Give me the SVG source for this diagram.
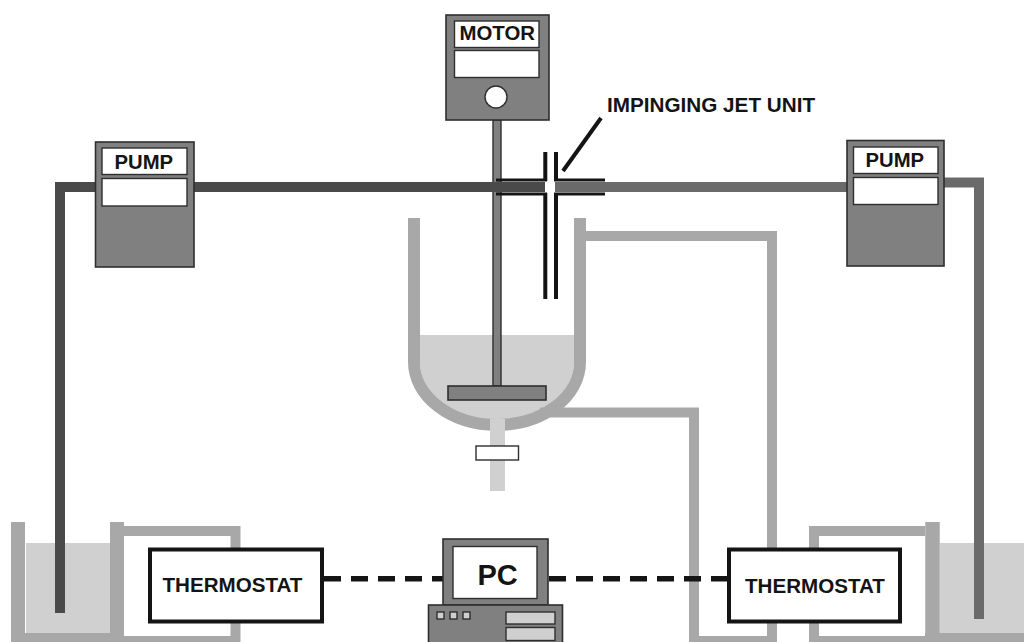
<svg xmlns="http://www.w3.org/2000/svg" width="1024" height="642" viewBox="0 0 1024 642">
<style>
.t{font-family:"Liberation Sans",Arial,sans-serif;font-weight:bold;fill:#141414}
.box{fill:#808080;stroke:#2e2e2e;stroke-width:1.6}
.win{fill:#fff;stroke:#2e2e2e;stroke-width:1.4}
.wall{fill:none;stroke:#a8a8a8;stroke-linejoin:miter}
.liq{fill:#d0d0d0}
.jet{fill:none;stroke:#141414}
.ts{fill:#fff;stroke:#141414;stroke-width:4}
.lt{fill:#cfcfcf;stroke:#2e2e2e;stroke-width:1.4}
</style>
<rect width="1024" height="642" fill="#fff"/>
<g id="vessel">
<path class="liq" d="M420,335H574V362A77,60 0 0 1 420,362Z"/>
<path class="wall" stroke-width="12" d="M414,218V362A83,63 0 0 0 580,362V218"/>
<rect class="liq" x="490" y="419" width="15" height="72"/>
</g>
<g id="tank-left">
<rect class="liq" x="26" y="543" width="84" height="91"/>
<path class="wall" stroke-width="14" d="M18,522V636M117,522V636"/>
<rect x="11" y="633" width="112" height="9" fill="#a8a8a8"/>
</g>
<g id="tank-right">
<rect class="liq" x="940" y="543" width="84" height="91"/>
<path class="wall" stroke-width="14.5" d="M932.5,522V636"/>
<rect x="925" y="633" width="99" height="9" fill="#a8a8a8"/>
</g>
<g id="connectors">
<path class="wall" stroke-width="10" d="M123,531H235.500V641H118"/>
<path class="wall" stroke-width="10" d="M925,531H814V641H930"/>
<path class="wall" stroke-width="10" d="M585,236H772V641H694V412.500H540"/>
<rect x="493" y="120" width="8" height="266" fill="#808080" stroke="#2e2e2e" stroke-width="1.400"/>
<path fill="none" stroke="#4a4a4a" stroke-width="10" d="M60,613V187H545"/>
<path fill="none" stroke="#6a6a6a" stroke-width="10" d="M555,187H847"/>
<path fill="none" stroke="#6a6a6a" stroke-width="10" d="M944,182.500H979V619"/>
<path class="jet" stroke-width="3" d="M496,180H547M496,194H547M554,180H605M554,194H605"/>
<path class="jet" stroke-width="4" d="M545.300,152V181M545.300,193V299M556,152V181M556,193V299"/>
<path class="jet" stroke-width="4" d="M601,118L563,171"/>
<path fill="none" stroke="#141414" stroke-width="5.500" stroke-dasharray="17 10" d="M324,578.800H444M549,578.800H728"/>
</g>
<g id="motor">
<rect class="box" x="446" y="15" width="103" height="105"/>
<rect class="win" x="454.500" y="21" width="84.500" height="26.500"/>
<rect class="win" x="454.500" y="50.500" width="84.500" height="27"/>
<circle cx="496" cy="97" r="11" fill="#fff" stroke="#2e2e2e" stroke-width="1.400"/>
<text class="t" x="459.500" y="40" font-size="20.400">MOTOR</text>
</g>
<g id="pump-left">
<rect class="box" x="95.500" y="142" width="98.500" height="125"/>
<rect class="win" x="102" y="148" width="85" height="26.500"/>
<rect class="win" x="102" y="178.500" width="85" height="27.500"/>
<text class="t" x="114.500" y="168.500" font-size="20.300">PUMP</text>
</g>
<g id="pump-right">
<rect class="box" x="847" y="140.500" width="97" height="125.500"/>
<rect class="win" x="853.500" y="147" width="84.500" height="26.500"/>
<rect class="win" x="853.500" y="177.500" width="84.500" height="27"/>
<text class="t" x="865.500" y="167" font-size="20.300">PUMP</text>
</g>
<g id="impeller">
<rect class="box" x="448" y="386" width="98" height="14"/>
</g>
<g id="valve">
<rect class="win" x="476" y="446" width="42.500" height="14"/>
</g>
<g id="label-jet">
<text class="t" x="607" y="112" font-size="20.700">IMPINGING JET UNIT</text>
</g>
<g id="thermostat-left">
<rect class="ts" x="150" y="549.500" width="172" height="72"/>
<text class="t" x="162.500" y="592" font-size="20.600">THERMOSTAT</text>
</g>
<g id="thermostat-right">
<rect class="ts" x="729" y="549.500" width="171" height="72"/>
<text class="t" x="745" y="593" font-size="20.600">THERMOSTAT</text>
</g>
<g id="pc">
<rect class="box" x="443" y="539" width="105" height="66"/>
<rect class="win" x="453" y="546.500" width="84" height="52" stroke-width="2"/>
<rect class="box" x="428.500" y="605" width="134" height="38"/>
<rect class="lt" x="437" y="612" width="7" height="7"/>
<rect class="lt" x="450" y="612" width="7" height="7"/>
<rect class="lt" x="463" y="612" width="7" height="7"/>
<rect class="lt" x="506" y="612" width="49" height="12"/>
<rect class="lt" x="506" y="627.500" width="49" height="13"/>
<text class="t" x="477.500" y="585" font-size="29">PC</text>
</g>
</svg>
